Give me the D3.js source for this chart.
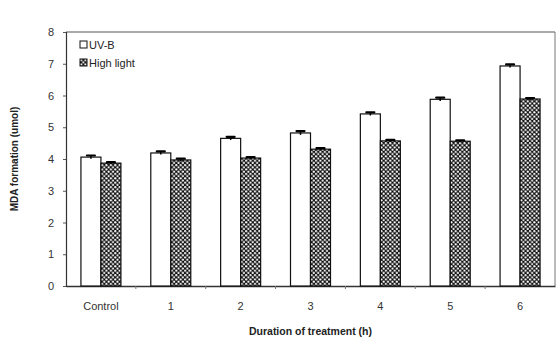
<!DOCTYPE html>
<html>
<head>
<meta charset="utf-8">
<script src="https://cdn.jsdelivr.net/npm/d3@7"></script>
<style>
  html, body { margin: 0; padding: 0; background: #fff; }
  svg { display: block; font-family: "Liberation Sans", Arial, sans-serif; }
</style>
</head>
<body>
<svg id="chart" width="559" height="343"></svg>
<script>
// MDA formation under UV-B and high light over treatment duration
const categories = ["Control", "1", "2", "3", "4", "5", "6"];
const uvbValues = [4.06, 4.19, 4.65, 4.82, 5.42, 5.88, 6.93];
const highLightValues = [3.87, 3.97, 4.03, 4.31, 4.57, 4.56, 5.89];
const uvbErrors = [0.05, 0.05, 0.05, 0.06, 0.05, 0.05, 0.05];
const highLightErrors = [0.03, 0.04, 0.03, 0.03, 0.03, 0.03, 0.03];
const yTicks = [0, 1, 2, 3, 4, 5, 6, 7, 8];
const seriesNames = ["UV-B", "High light"];

const svg = d3.select("#chart");
const margin = { top: 32, right: 4, bottom: 57, left: 66 };
const width = 559 - margin.left - margin.right;
const height = 343 - margin.top - margin.bottom;

// checkered fill for the high-light bars
const defs = svg.append("defs");
const pat = defs.append("pattern")
  .attr("id", "checker")
  .attr("patternUnits", "userSpaceOnUse")
  .attr("width", 4.4).attr("height", 4.4);
pat.append("rect").attr("width", 4.4).attr("height", 4.4).attr("fill", "#111");
pat.append("circle").attr("cx", 1.1).attr("cy", 1.1).attr("r", 1.1).attr("fill", "#fff");
pat.append("circle").attr("cx", 3.3).attr("cy", 3.3).attr("r", 1.1).attr("fill", "#fff");

const g = svg.append("g").attr("transform", `translate(${margin.left},${margin.top})`);

const x = d3.scaleBand().domain(categories).range([0, width]).paddingInner(0).paddingOuter(0);
const y = d3.scaleLinear().domain([0, 8]).range([height, 0]);
const barW = 20;

// frame: top and right border
g.append("line").attr("x1", 0).attr("x2", width).attr("y1", 0).attr("y2", 0)
  .attr("stroke", "#555").attr("stroke-width", 1.2);
g.append("line").attr("x1", width).attr("x2", width).attr("y1", 0).attr("y2", height)
  .attr("stroke", "#777").attr("stroke-width", 1);

// y axis
const yAxis = g.append("g")
  .call(d3.axisLeft(y).tickValues(yTicks).tickSize(3).tickPadding(9).tickFormat(d3.format("d")));
yAxis.select(".domain").attr("stroke", "#333").attr("stroke-width", 1.2);
yAxis.selectAll(".tick line").attr("stroke", "#555");
yAxis.selectAll(".tick text").attr("font-size", 11).attr("fill", "#333");

// x axis with ticks at category boundaries
const xAxis = g.append("g").attr("transform", `translate(0,${height})`)
  .call(d3.axisBottom(x).tickSize(0).tickPadding(16));
xAxis.select(".domain").attr("stroke", "#333").attr("stroke-width", 1.4);
xAxis.selectAll(".tick text").attr("font-size", 11).attr("fill", "#333");
g.append("g").selectAll("line")
  .data(categories.slice(1))
  .join("line")
  .attr("x1", d => x(d)).attr("x2", d => x(d))
  .attr("y1", height).attr("y2", height + 3)
  .attr("stroke", "#777");

// bars
const groups = g.append("g").selectAll("g")
  .data(categories.map((c, i) => ({ c, uv: uvbValues[i], hl: highLightValues[i], ue: uvbErrors[i], he: highLightErrors[i] })))
  .join("g")
  .attr("transform", d => `translate(${x(d.c) + x.bandwidth() / 2},0)`);

groups.append("rect")
  .attr("x", -barW).attr("width", barW)
  .attr("y", d => y(d.uv)).attr("height", d => height - y(d.uv))
  .attr("fill", "#fff").attr("stroke", "#111").attr("stroke-width", 1.2);

groups.append("rect")
  .attr("x", 0).attr("width", barW)
  .attr("y", d => y(d.hl)).attr("height", d => height - y(d.hl))
  .attr("fill", "url(#checker)").attr("stroke", "#111").attr("stroke-width", 1.2);

// error bars
function errorBar(sel, cx, val, err) {
  sel.append("line")
    .attr("x1", cx).attr("x2", cx)
    .attr("y1", d => y(val(d) + err(d))).attr("y2", d => y(val(d) - err(d)))
    .attr("stroke", "#000").attr("stroke-width", 1.5);
  sel.append("line")
    .attr("x1", cx - 4).attr("x2", cx + 4)
    .attr("y1", d => y(val(d) + err(d))).attr("y2", d => y(val(d) + err(d)))
    .attr("stroke", "#000").attr("stroke-width", 2.2).attr("stroke-linecap", "round");
}
errorBar(groups, -barW / 2, d => d.uv, d => d.ue);
errorBar(groups, barW / 2, d => d.hl, d => d.he);

// legend
const legend = g.append("g").attr("transform", "translate(14,9)");
seriesNames.forEach((name, i) => {
  const row = legend.append("g").attr("transform", `translate(0,${i * 18})`);
  row.append("rect").attr("x", 0).attr("y", 0).attr("width", 7).attr("height", 7)
    .attr("fill", i === 0 ? "#fff" : "url(#checker)").attr("stroke", "#111").attr("stroke-width", 1);
  row.append("text").attr("x", 9).attr("y", 7.5).attr("font-size", 11).attr("fill", "#222").text(name);
});

// axis titles
svg.append("text")
  .attr("transform", `translate(18,${margin.top + height / 2}) rotate(-90)`)
  .attr("text-anchor", "middle").attr("font-size", 10).attr("font-weight", "bold").attr("fill", "#222")
  .text("MDA formation (umol)");
svg.append("text")
  .attr("x", margin.left + width / 2).attr("y", 335)
  .attr("text-anchor", "middle").attr("font-size", 10.5).attr("font-weight", "bold").attr("fill", "#222")
  .text("Duration of treatment (h)");
</script>
</body>
</html>
